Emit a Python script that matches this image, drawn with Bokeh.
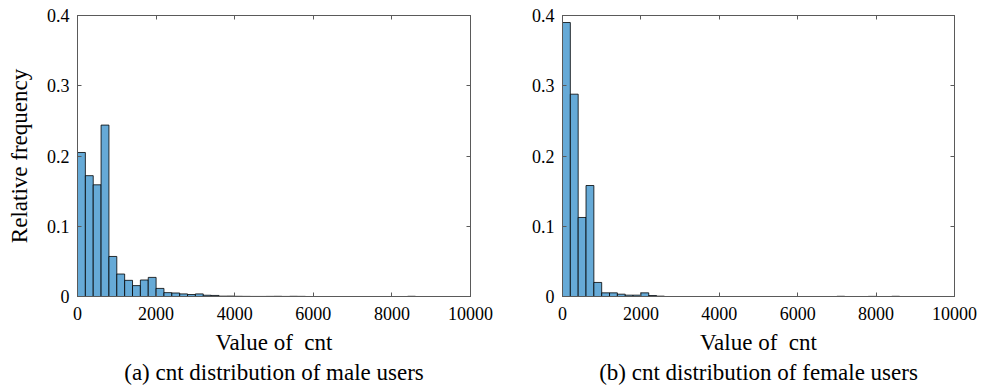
import numpy as np
from bokeh.plotting import figure
from bokeh.layouts import row
from bokeh.models import Range1d, LinearAxis, Title, FixedTicker
from bokeh.embed import file_html
from bokeh.resources import INLINE

# ---- data ----
bin_width = 200
x_ticks = [0, 2000, 4000, 6000, 8000, 10000]
y_ticks = [0, 0.1, 0.2, 0.3, 0.4]
y_tick_labels = {0: "0", 0.1: "0.1", 0.2: "0.2", 0.3: "0.3", 0.4: "0.4"}

male_freq = [0.205, 0.172, 0.159, 0.244, 0.057, 0.032, 0.023, 0.0155, 0.0235, 0.0272,
             0.0115, 0.0055, 0.005, 0.0037, 0.0028, 0.0037, 0.0018, 0.0015, 0.0005, 0.0006,
             0.0003, 0.0002, 0.0001, 0.0001, 0.0002, 0.0003, 0.0001, 0.0003, 0.0002, 0.0,
             0.0, 0.0, 0.0, 0.0, 0.0, 0.0, 0.0, 0.0, 0.0, 0.0,
             0.0, 0.0, 0.0003, 0.0, 0.0, 0.0, 0.0, 0.0, 0.0, 0.0]
female_freq = [0.390, 0.288, 0.1125, 0.158, 0.020, 0.0052, 0.0052, 0.0033, 0.0019, 0.0019,
               0.0052, 0.0014, 0.0005, 0.0, 0.0, 0.0, 0.0, 0.0, 0.0, 0.0,
               0.0, 0.0, 0.0, 0.0, 0.0, 0.0, 0.0, 0.0, 0.0, 0.0,
               0.0, 0.0, 0.0, 0.0, 0.0, 0.0003, 0.0, 0.0, 0.0, 0.0002,
               0.0, 0.0, 0.0003, 0.0, 0.0, 0.0, 0.0, 0.0, 0.0, 0.0]

x_label = "Value of\u00a0\u00a0cnt"
y_label = "Relative frequency"
captions = ["(a) cnt distribution of male users", "(b) cnt distribution of female users"]

FONT = "Liberation Serif"
FRAME = "#5a5a5a"
FILL = "#66AAD7"


def make_panel(freq, caption, show_ylabel, width, bl, br):
    p = figure(width=width, height=388, output_backend="svg", toolbar_location=None,
               x_range=Range1d(0, 10000), y_range=Range1d(0, 0.4),
               min_border_left=bl, min_border_right=br, min_border_top=15, min_border_bottom=92,
               background_fill_color="white", border_fill_color="white")
    p.grid.visible = False
    p.outline_line_color = FRAME
    p.outline_line_width = 1

    n = len(freq)
    edges = np.arange(n + 1) * bin_width
    p.quad(left=edges[:-1], right=edges[1:], bottom=0, top=freq,
           fill_color=FILL, line_color="black", line_width=0.8)

    for ax in p.xaxis:
        ax.ticker = FixedTicker(ticks=x_ticks)
    for ax in p.yaxis:
        ax.ticker = FixedTicker(ticks=y_ticks)
        ax.major_label_overrides = y_tick_labels

    for ax in list(p.xaxis) + list(p.yaxis):
        ax.major_tick_in = 4
        ax.major_tick_out = 0
        ax.minor_tick_line_color = None
        ax.axis_line_color = FRAME
        ax.major_tick_line_color = FRAME
        ax.major_label_text_font = FONT
        ax.major_label_text_font_size = "18px"
        ax.major_label_text_color = "black"
        ax.axis_label_text_font = FONT
        ax.axis_label_text_font_size = "23px"
        ax.axis_label_text_font_style = "normal"
        ax.axis_label_text_color = "black"

    p.xaxis.major_label_standoff = 10
    p.xaxis.axis_label = x_label
    p.xaxis.axis_label_standoff = 7
    p.yaxis.major_label_standoff = 8
    if show_ylabel:
        p.yaxis.axis_label = y_label
        p.yaxis.axis_label_standoff = 12

    # mirrored ticks on top and right (labels not drawn)
    top = LinearAxis(ticker=FixedTicker(ticks=x_ticks), major_label_text_font_size="8px",
                     major_label_text_color=None,
                     major_tick_in=4, major_tick_out=0, minor_tick_line_color=None,
                     axis_line_color=FRAME, major_tick_line_color=FRAME, major_label_standoff=0)
    right = LinearAxis(ticker=FixedTicker(ticks=y_ticks), major_label_text_font_size="8px",
                       major_label_text_color=None,
                       major_tick_in=4, major_tick_out=0, minor_tick_line_color=None,
                       axis_line_color=FRAME, major_tick_line_color=FRAME, major_label_standoff=0)
    p.add_layout(top, "above")
    p.add_layout(right, "right")

    cap = Title(text=caption, align="center", text_font=FONT, text_font_size="23px",
                text_font_style="normal", text_color="black", standoff=0)
    p.add_layout(cap, "below")
    return p


p1 = make_panel(male_freq, captions[0], True, 500, 77, 30)
p2 = make_panel(female_freq, captions[1], False, 481, 62, 27)

layout = row(p1, p2)
open("out.html", "w").write(file_html(layout, INLINE))
